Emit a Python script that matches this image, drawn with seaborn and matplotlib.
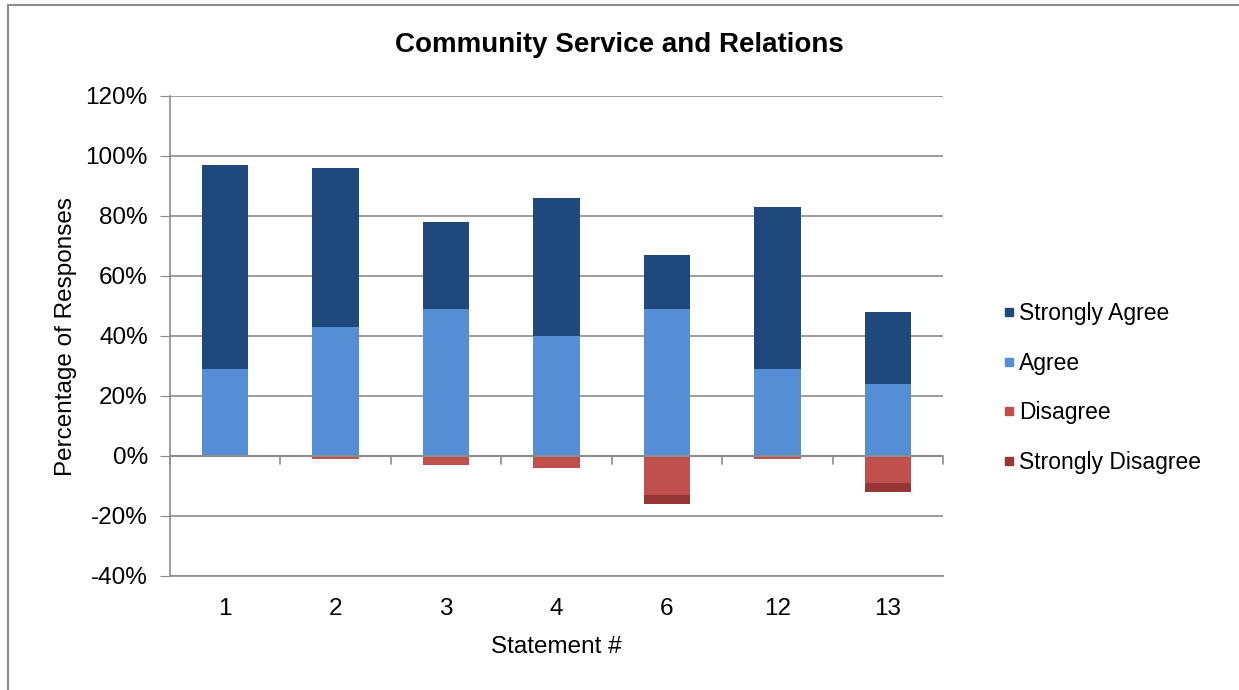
import matplotlib
matplotlib.use("Agg")
import matplotlib.pyplot as plt
from matplotlib.lines import Line2D
from matplotlib.ticker import FuncFormatter
import pandas as pd
import seaborn as sns

statements = ["1", "2", "3", "4", "6", "12", "13"]
agree = [29, 43, 49, 40, 49, 29, 24]
strongly_agree = [68, 53, 29, 46, 18, 54, 24]   # stacked on top of agree
disagree = [0, -1, -3, -4, -13, -1, -9]
strongly_disagree = [0, 0, 0, 0, -3, 0, -3]      # stacked below disagree

colors = {
    "Strongly Agree": "#1F497D",
    "Agree": "#558ED5",
    "Disagree": "#C0504D",
    "Strongly Disagree": "#953735",
}

sns.set_style("white")
plt.rcParams["font.family"] = ["Liberation Sans", "DejaVu Sans"]
plt.rcParams["text.color"] = "black"
plt.rcParams["axes.labelcolor"] = "black"
plt.rcParams["xtick.color"] = "black"
plt.rcParams["ytick.color"] = "black"

df = pd.DataFrame({
    "Statement": statements,
    "Agree": agree,
    "Strongly Agree": strongly_agree,
    "Disagree": disagree,
    "Strongly Disagree": strongly_disagree,
})

fig = plt.figure(figsize=(12.39, 6.9), dpi=100)
ax = fig.add_axes([170 / 1239, 1 - 576 / 690, (943 - 170) / 1239, (576 - 96) / 690])

w = 0.42
kw = dict(width=w, saturation=1, ax=ax, zorder=3, linewidth=0, edgecolor="none")
sns.barplot(data=df, x="Statement", y="Agree", color=colors["Agree"], **kw)
sns.barplot(data=df, x="Statement", y="Strongly Agree", bottom=df["Agree"],
            color=colors["Strongly Agree"], **kw)
sns.barplot(data=df, x="Statement", y="Disagree", color=colors["Disagree"], **kw)
sns.barplot(data=df, x="Statement", y="Strongly Disagree", bottom=df["Disagree"],
            color=colors["Strongly Disagree"], **kw)

ax.set_ylim(-40, 120)
ax.set_xlim(-0.5, len(statements) - 0.5)
ax.set_yticks(range(-40, 121, 20))
ax.yaxis.set_major_formatter(FuncFormatter(lambda v, p: f"{int(v)}%"))
ax.grid(axis="y", color="#8c8c8c", linewidth=1.2, zorder=0)

for s in ["top", "right"]:
    ax.spines[s].set_visible(False)
ax.spines["left"].set_color("#8c8c8c")
ax.spines["left"].set_linewidth(1.2)
ax.spines["bottom"].set_color("#8c8c8c")
ax.spines["bottom"].set_linewidth(1.2)

# zero line with category separators
ax.axhline(0, color="#8c8c8c", linewidth=1.5, zorder=4)
for xb in [i + 0.5 for i in range(-1, len(statements))]:
    ax.plot([xb, xb], [0, -2.5], color="#8c8c8c", linewidth=1.2, zorder=4,
            clip_on=False)

ax.tick_params(axis="y", which="both", left=True, length=7, color="#8c8c8c",
               labelcolor="black", labelsize=17.5, pad=9)
ax.tick_params(axis="x", bottom=False, labelsize=17.5, pad=12)

ax.set_xlabel("Statement #", fontsize=17.5, labelpad=12)
ax.set_ylabel("Percentage of Responses", fontsize=17.5, labelpad=6)
fig.text(0.5, 1 - 45 / 690, "Community Service and Relations", ha="center",
         va="center", fontsize=20, fontweight="bold")

order = ["Strongly Agree", "Agree", "Disagree", "Strongly Disagree"]
handles = [Line2D([0], [0], marker="s", linestyle="", markersize=6,
                  markerfacecolor=colors[k], markeredgecolor=colors[k]) for k in order]
fig.legend(handles, order, loc="center left", bbox_to_anchor=(982 / 1239, 1 - 388 / 690),
           frameon=False, fontsize=16.5, handletextpad=0.1, labelspacing=1.15,
           handlelength=0.6)

# frame lines like the screenshot border
fig.add_artist(Line2D([8 / 1239, 8 / 1239], [0, 1 - 5 / 690], color="#8c8c8c",
                      linewidth=1.5, transform=fig.transFigure))
fig.add_artist(Line2D([8 / 1239, 1], [1 - 5 / 690, 1 - 5 / 690], color="#8c8c8c",
                      linewidth=1.5, transform=fig.transFigure))

fig.savefig("out.png", dpi=100)
